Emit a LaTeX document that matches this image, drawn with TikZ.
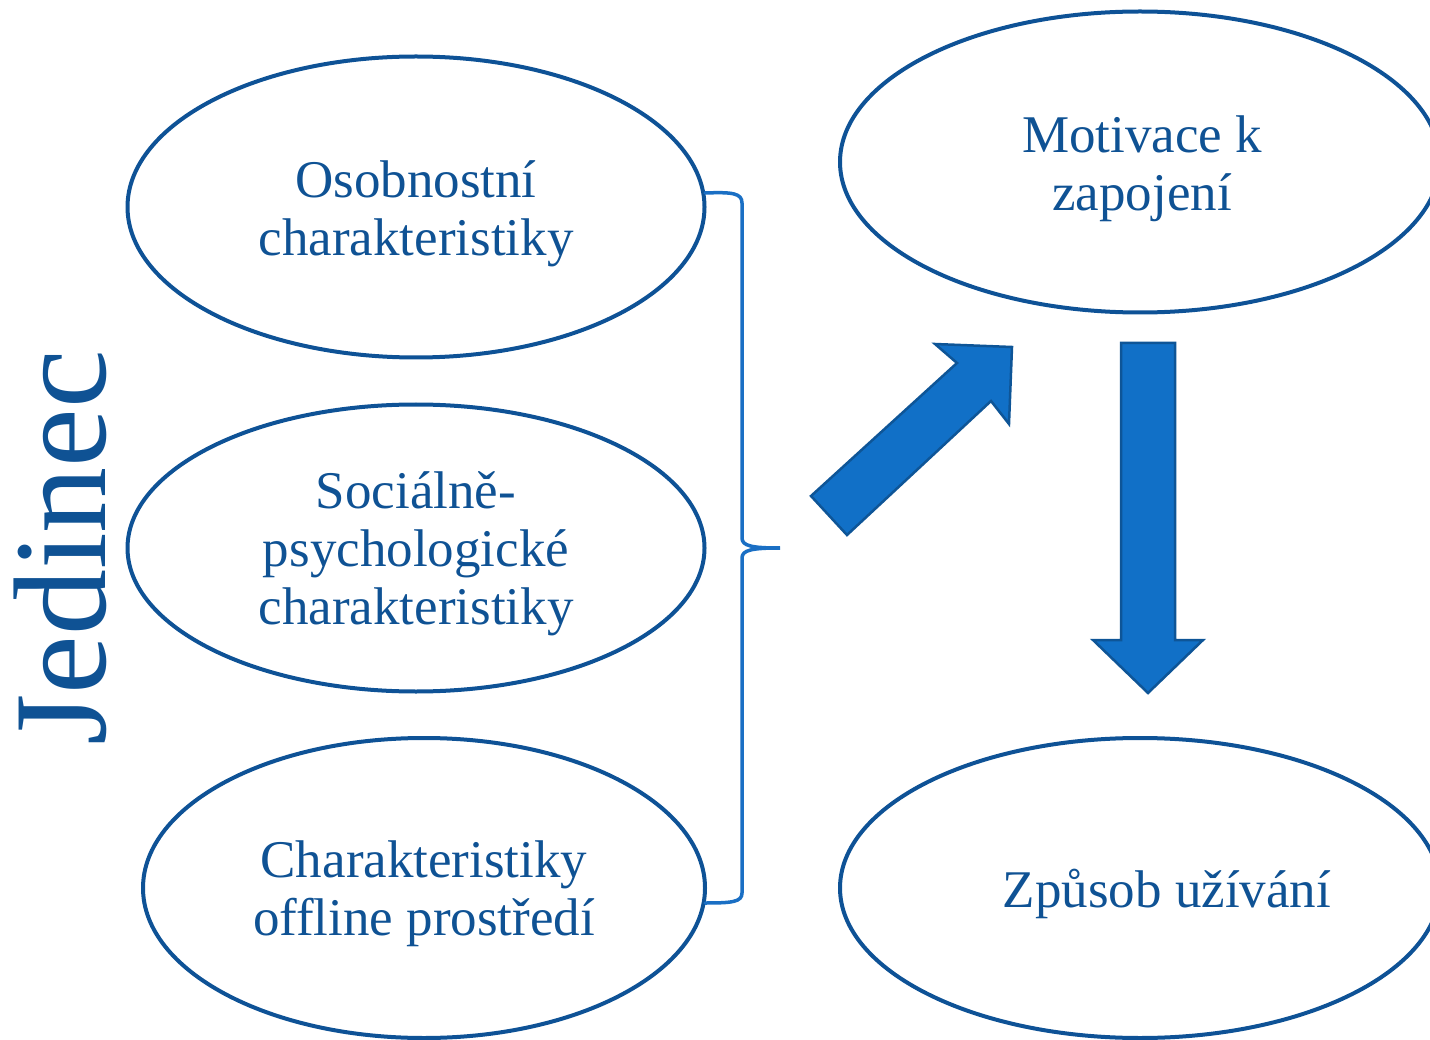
\documentclass[tikz,border=0pt]{standalone}
\usepackage{fontspec}
\setmainfont{Liberation Serif}
\usetikzlibrary{shapes.geometric}
\definecolor{edgeblue}{HTML}{0E5296}
\definecolor{textblue}{HTML}{0F5294}
\definecolor{braceblue}{HTML}{1A6FC4}
\definecolor{arrowfill}{HTML}{1170C7}
\definecolor{arrowedge}{HTML}{0E5597}
\tikzset{
  oval/.style={ellipse, draw=edgeblue, line width=4pt, inner sep=0pt},
  txt/.style={text=textblue, align=center, inner sep=0pt, font=\fontsize{53}{58}\selectfont},
  blockarrow/.style={fill=arrowfill, draw=arrowedge, line width=2.5pt, line join=miter},
  bracestyle/.style={draw=braceblue, line width=3.5pt, line cap=round},
}
\begin{document}
\begin{tikzpicture}[x=1pt,y=-1pt]
\useasboundingbox (0,0) rectangle (1430,1040);
\clip (0,0) rectangle (1430,1040);
\node[oval, minimum width=577pt, minimum height=301pt] (osob) at (416,207) {};
\node[oval, minimum width=577pt, minimum height=287pt] (soc) at (416,548) {};
\node[oval, minimum width=562pt, minimum height=300pt] (off) at (424,888) {};
\node[oval, minimum width=600pt, minimum height=301pt] (mot) at (1140,162) {};
\node[oval, minimum width=600pt, minimum height=300pt] (zpu) at (1140,888) {};
\node[txt] (osobT) at ([yshift=-7pt]osob.center) {Osobnostní\\charakteristiky};
\node[txt] (socT) at ([yshift=-6pt]soc.center) {Sociálně-\\psychologické\\charakteristiky};
\node[txt] (offT) at ([yshift=-6pt]off.center) {Charakteristiky\\offline prostředí};
\node[txt] (motT) at ([xshift=2pt,yshift=-7pt]mot.center) {Motivace k\\zapojení};
\node[txt] (zpuT) at ([xshift=27pt,yshift=-6pt]zpu.center) {Způsob užívání};
\node[text=textblue, rotate=90, font=\fontsize{132}{140}\selectfont, inner sep=0pt] (jed) at (60,548) {Jedinec};
\coordinate (btop) at (705,193);
\coordinate (bbot) at (705,903);
\coordinate (btip) at (780,548);
\draw[bracestyle] (btop) .. controls (732,192) and (742,193) .. (742,203) -- (742,538)
  .. controls (742,546) and (752,548) .. (btip)
  .. controls (752,548) and (742,550) .. (742,558) -- (742,893)
  .. controls (742,902) and (732,903) .. (bbot);
\draw[blockarrow] (811,496) -- (957,363) -- (935,344) -- (1012,347) -- (1009,424) -- (991,401) -- (847,535) -- cycle;
\draw[blockarrow] (1121,343) -- (1175,343) -- (1175,640) -- (1203,640) -- (1148,693) -- (1093,640) -- (1121,640) -- cycle;
\end{tikzpicture}
\end{document}
